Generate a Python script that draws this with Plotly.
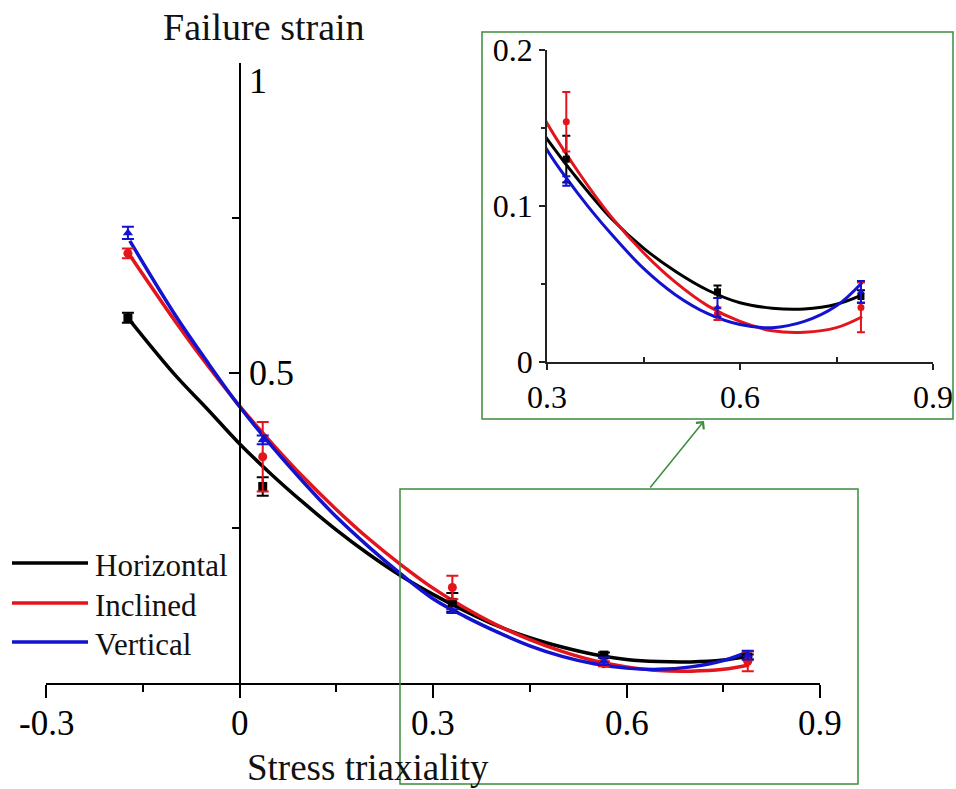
import plotly.graph_objects as go

# ---------------- data ----------------
series_names = ["Horizontal", "Inclined", "Vertical"]
series_colors = ["#000000", "#e3141b", "#1212cf"]
series_symbols = ["square", "circle", "triangle-up"]

# measured points (stress triaxiality, failure strain, error)
pt_x = [-0.173, 0.036, 0.33, 0.565, 0.788]
horiz_y = [0.589, 0.317, 0.130, 0.045, 0.042]
horiz_err = [0.008, 0.015, 0.015, 0.004, 0.004]
incl_y = [0.693, 0.365, 0.154, 0.031, 0.035]
incl_err = [0.008, 0.056, 0.019, 0.004, 0.016]
vert_y = [0.726, 0.392, 0.116, 0.035, 0.045]
vert_err = [0.010, 0.007, 0.003, 0.006, 0.007]

# fitted curves
fit_x = [-0.17, -0.1, -0.05, 0.0, 0.05, 0.1, 0.15, 0.2, 0.25, 0.3,
         0.35, 0.4, 0.45, 0.5, 0.55, 0.6, 0.65, 0.7, 0.75, 0.79]
horiz_fit = [0.585, 0.497, 0.442, 0.386, 0.336, 0.290, 0.247, 0.208, 0.173, 0.143,
             0.116, 0.092, 0.073, 0.058, 0.046, 0.038, 0.0345, 0.034, 0.037, 0.043]
incl_fit = [0.690, 0.584, 0.513, 0.447, 0.387, 0.331, 0.280, 0.233, 0.191, 0.153,
            0.121, 0.093, 0.070, 0.051, 0.036, 0.026, 0.020, 0.019, 0.022, 0.029]
vert_fit = [0.713, 0.594, 0.518, 0.446, 0.382, 0.323, 0.268, 0.220, 0.176, 0.136,
            0.107, 0.082, 0.060, 0.043, 0.031, 0.024, 0.022, 0.026, 0.036, 0.051]

main_xticks = [-0.3, 0, 0.3, 0.6, 0.9]
main_xticktext = ["-0.3", "0", "0.3", "0.6", "0.9"]
main_yticks = [0.5, 1]
main_yticktext = ["0.5", "1"]
inset_xticks = [0.3, 0.6, 0.9]
inset_xticktext = ["0.3", "0.6", "0.9"]
inset_yticks = [0, 0.1, 0.2]
inset_yticktext = ["0", "0.1", "0.2"]

x_title = "Stress triaxiality"
y_title = "Failure strain"

# ---------------- layout helpers ----------------
W, H = 956, 789
FONT = "Liberation Serif, Times New Roman, serif"
GREEN = "#3d8b3d"


def px(v):
    return v / W


def py(v):
    return 1 - v / H


ys = [horiz_y, incl_y, vert_y]
errs = [horiz_err, incl_err, vert_err]
fits = [horiz_fit, incl_fit, vert_fit]

fig = go.Figure()

for axes, lw, ms, cap in [(("x", "y"), 3.5, 9, 6), (("x2", "y2"), 3, 7, 4)]:
    for name, col, fy in zip(series_names, series_colors, fits):
        fig.add_trace(go.Scatter(
            x=fit_x, y=fy, mode="lines", line=dict(color=col, width=lw, shape="spline", smoothing=1.0),
            xaxis=axes[0], yaxis=axes[1], showlegend=False, hoverinfo="skip"))
    for name, col, sym, yy, ee in zip(series_names, series_colors, series_symbols, ys, errs):
        fig.add_trace(go.Scatter(
            x=pt_x, y=yy, mode="markers",
            marker=dict(color=col, symbol=sym, size=ms),
            error_y=dict(type="data", array=ee, visible=True, color=col, thickness=2, width=cap),
            xaxis=axes[0], yaxis=axes[1], showlegend=False, name=name))

fig.update_layout(
    width=W, height=H,
    margin=dict(l=0, r=0, t=0, b=0, pad=0, autoexpand=False),
    paper_bgcolor="white", plot_bgcolor="rgba(0,0,0,0)",
    font=dict(family=FONT, color="black"),
    showlegend=False,
    xaxis=dict(
        domain=[px(46), px(820)], range=[-0.3, 0.9], anchor="y", automargin=False,
        showline=True, linecolor="black", linewidth=2, showgrid=False, zeroline=False,
        tickmode="array", tickvals=main_xticks, showticklabels=False,
        ticks="outside", ticklen=13, tickwidth=2, tickcolor="black",
        minor=dict(tickmode="array", tickvals=[-0.15, 0.15, 0.45, 0.75], ticks="outside",
                   ticklen=7, tickwidth=2, tickcolor="black"),
        fixedrange=True,
    ),
    yaxis=dict(
        domain=[py(683), py(63)], range=[0, 1], anchor="free", position=px(240), side="right",
        automargin=False,
        showline=True, linecolor="black", linewidth=2, showgrid=False, zeroline=False,
        tickmode="array", tickvals=main_yticks, showticklabels=False,
        ticks="inside", ticklen=10, tickwidth=2, tickcolor="black",
        minor=dict(tickmode="array", tickvals=[0.25, 0.75], ticks="inside",
                   ticklen=7, tickwidth=2, tickcolor="black"),
        fixedrange=True,
    ),
    xaxis2=dict(
        domain=[px(547), px(933)], range=[0.3, 0.9], anchor="y2", automargin=False,
        showline=True, linecolor="#222", linewidth=1.5, showgrid=False, zeroline=False,
        tickmode="array", tickvals=inset_xticks, ticktext=inset_xticktext,
        ticks="outside", ticklen=6, tickwidth=1.5, tickcolor="#222",
        minor=dict(tickmode="array", tickvals=[0.45, 0.75], ticks="inside",
                   ticklen=5, tickwidth=1.5, tickcolor="#222"),
        tickfont=dict(size=32, family=FONT), fixedrange=True,
    ),
    yaxis2=dict(
        domain=[py(362), py(50)], range=[0, 0.2], anchor="x2", automargin=False,
        showline=True, linecolor="#222", linewidth=1.5, showgrid=False, zeroline=False,
        tickmode="array", tickvals=inset_yticks, ticktext=inset_yticktext,
        ticks="outside", ticklen=6, tickwidth=1.5, tickcolor="#222",
        minor=dict(tickmode="array", tickvals=[0.05, 0.15], ticks="outside",
                   ticklen=4, tickwidth=1.5, tickcolor="#222"),
        tickfont=dict(size=32, family=FONT), fixedrange=True,
    ),
)

shapes = [
    # zoom region box in main plot
    dict(type="rect", xref="paper", yref="paper", x0=px(400), x1=px(858), y0=py(784), y1=py(489),
         line=dict(color=GREEN, width=1.5), fillcolor="rgba(0,0,0,0)", layer="above"),
    # inset frame
    dict(type="rect", xref="paper", yref="paper", x0=px(482), x1=px(953), y0=py(419), y1=py(32),
         line=dict(color=GREEN, width=1.5), fillcolor="rgba(0,0,0,0)", layer="above"),
]
annotations = []

# main x tick labels
for val, txt in zip(main_xticks, main_xticktext):
    annotations.append(dict(text=txt, xref="x", yref="paper", x=val, y=py(723),
                            xanchor="center", yanchor="middle", showarrow=False,
                            font=dict(size=35, family=FONT, color="black")))

# main y tick labels (right of the axis, "1" hangs below its tick)
for val, txt in zip(main_yticks, main_yticktext):
    annotations.append(dict(text=txt, xref="paper", yref="y", x=px(247), y=val,
                            xanchor="left", yanchor="top" if val == 1 else "middle",
                            yshift=4 if val == 1 else 0, showarrow=False,
                            font=dict(size=36, family=FONT, color="black")))

# legend (manual)
leg_rows = [563, 603, 642]
for name, col, row in zip(series_names, series_colors, leg_rows):
    shapes.append(dict(type="line", xref="paper", yref="paper", x0=px(12), x1=px(88),
                       y0=py(row), y1=py(row), line=dict(color=col, width=3.5)))
    annotations.append(dict(text=name, xref="paper", yref="paper", x=px(93), y=py(row + 2),
                            xanchor="left", yanchor="middle", showarrow=False,
                            font=dict(size=31, family=FONT, color="#111")))

annotations.append(dict(text=y_title, xref="paper", yref="paper", x=px(264), y=py(27),
                        xanchor="center", yanchor="middle", showarrow=False,
                        font=dict(size=38, family=FONT, color="#111")))
annotations.append(dict(text=x_title, xref="paper", yref="paper", x=px(368), y=py(767),
                        xanchor="center", yanchor="middle", showarrow=False,
                        font=dict(size=37, family=FONT, color="#111")))
# arrow from zoom box to inset
annotations.append(dict(text="", xref="paper", yref="paper", x=px(704), y=py(421),
                        axref="pixel", ayref="pixel", ax=-55, ay=68, showarrow=True,
                        arrowhead=4, arrowsize=1.3, arrowwidth=1.5, arrowcolor=GREEN))

fig.update_layout(shapes=shapes, annotations=annotations)

fig.write_html("out.html")
